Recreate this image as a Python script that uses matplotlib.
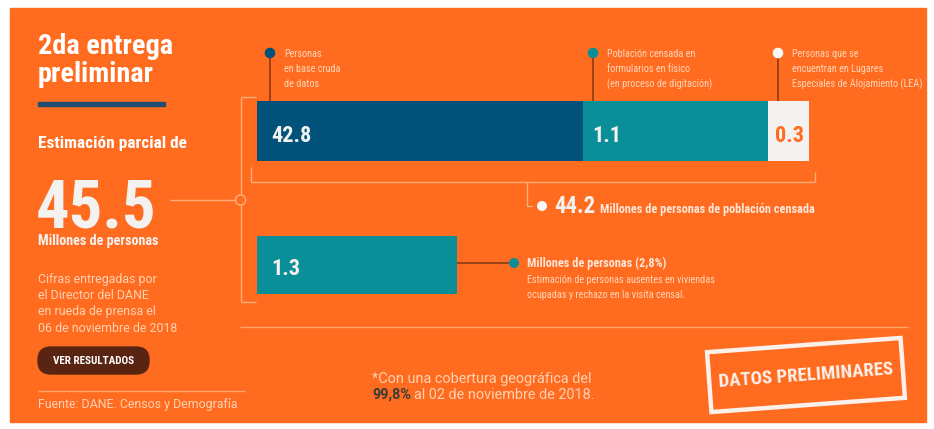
import matplotlib
matplotlib.use("Agg")
import matplotlib.pyplot as plt
import matplotlib.font_manager as fm
from matplotlib.patches import FancyBboxPatch, Circle, Polygon, Rectangle
import numpy as np

# data
census_labels = ["Personas\nen base cruda\nde datos",
                 "Población censada en\nformularios en físico\n(en proceso de digitación)",
                 "Personas que se\nencuentran en Lugares\nEspeciales de Alojamiento (LEA)"]
census_values = [42.8, 1.1, 0.3]
absent_value = 1.3
absent_pct = "2,8%"
coverage = "99,8%"

# colours
ORANGE = "#FF6B1F"
BLUE = "#01527B"
TEAL = "#0A8E98"
WHITE = "#F4F2F0"
PEACH = "#FFD6BA"
THIN = "#FFAE78"
STEM = "#8A3A14"
seg_colors = [BLUE, TEAL, WHITE]
seg_text = [WHITE, WHITE, ORANGE]

# fonts: look for a condensed face, fall back to DejaVu
CONDENSED = ("condensed", "semi-condensed", "extra-condensed", "ultra-condensed")
def _w(f):
    w = f.weight
    return fm.weight_dict.get(w, 400) if isinstance(w, str) else w
def pick_font(bold):
    pool = [f for f in fm.fontManager.ttflist
            if f.stretch in CONDENSED and f.style == "normal" and ((_w(f) >= 600) == bold)]
    for fam in ["Oswald", "Roboto Condensed", "Open Sans", "Noto Sans", "Liberation Sans Narrow", "DejaVu Sans"]:
        for f in pool:
            if f.name == fam:
                return f.fname
    for f in fm.fontManager.ttflist:
        if f.name == "Liberation Sans Narrow" and ((_w(f) >= 600) == bold) and f.style == "normal":
            return f.fname
    return None
COND_B = pick_font(True)
COND_R = pick_font(False)

def fp(size, bold=True, cond=True, family="Roboto", weight="normal"):
    path = (COND_B if bold else COND_R) if cond else None
    if path:
        return fm.FontProperties(fname=path, size=size)
    if cond:
        return fm.FontProperties(family="DejaVu Sans", weight="bold" if bold else "normal",
                                 stretch="condensed", size=size)
    return fm.FontProperties(family=family, weight=weight, size=size)

W, H = 934, 429
fig = plt.figure(figsize=(W / 100, H / 100), dpi=100)
fig.patch.set_facecolor("white")
# orange card behind everything
fig.patches.append(Rectangle((10 / W, 1 - 422 / H), 916 / W, 414 / H, transform=fig.transFigure,
                             color=ORANGE, zorder=0))
ax = fig.add_axes([0, 0, 1, 1])
ax.set_zorder(3)
ax.set_xlim(0, W)
ax.set_ylim(H, 0)
ax.axis("off")

def txt(x, y, s, size, color, bold=True, cond=True, va="baseline", ha="left", **kw):
    fam = {k: kw.pop(k) for k in list(kw) if k in ("family", "weight")}
    return ax.text(x, y, s, fontproperties=fp(size, bold, cond, **fam),
                   color=color, va=va, ha=ha, **kw)

def line(xs, ys, color=THIN, lw=1.0, z=2):
    ax.plot(xs, ys, color=color, lw=lw, zorder=z, solid_capstyle="butt")

# left column
txt(38, 54, "2da entrega", 20.3, "white")
txt(38, 82, "preliminar", 20.3, "white")
ax.add_patch(Rectangle((38, 102), 127, 4, color="#1F4E70", zorder=2))
txt(38, 148, "Estimación parcial de", 12.4, "white")
total = round(sum(census_values) + absent_value, 1)
txt(36, 227, f"{total:.1f}", 48, WHITE)
txt(38, 245, "Millones de personas", 10.2, WHITE)
for i, s in enumerate(["Cifras entregadas por", "el Director del DANE",
                       "en rueda de prensa el", "06 de noviembre de 2018"]):
    txt(38, 283 + 16.2 * i, s, 8.9, "#FFD2B2", bold=False, cond=False, family="Roboto", weight="normal")
ax.add_patch(FancyBboxPatch((38, 347), 111, 27, boxstyle="round,pad=0,rounding_size=13",
                            color="#5A2412", zorder=2))
txt(93.5, 361, "VER RESULTADOS", 8, "white", va="center", ha="center")
line([38, 245], [391, 391], color="#FFA66C")
txt(38, 408, "Fuente: DANE. Censos y Demografía", 8.9, "#FFD2B2", bold=False, cond=False,
    family="Roboto", weight="normal")

# connector tree
line([170, 235], [200, 200])
ax.add_patch(Circle((240.5, 200), 5, fill=False, ec=THIN, lw=1.1, zorder=3))
line([241, 241], [97, 195])
line([241, 241], [205, 302])
line([241, 256], [97, 97])
line([241, 256], [302, 302])

# stacked bar: each segment is its own tile axes
bar_x0, bar_y0, bar_h = 257, 101, 60
tile_w = [326, 185, 41]   # infographic tiles, not to scale
label_dx = [14, 9, 7]
dot_dx = [13, 10, 10]
def tile(x0, y0, w, h):
    a = fig.add_axes([x0 / W, 1 - (y0 + h) / H, w / W, h / H])
    a.set_zorder(1)
    a.axis("off")
    return a
x = bar_x0
for i, (lab, v, c, tc) in enumerate(zip(census_labels, census_values, seg_colors, seg_text)):
    tw = tile_w[i]
    a = tile(x, bar_y0, tw, bar_h)
    a.barh(0, v, height=1, color=c, linewidth=0)
    a.set_xlim(0, v)
    a.set_ylim(-0.5, 0.5)
    txt(x + label_dx[i], 142, f"{v:.1f}", 16, tc)
    dx = x + dot_dx[i]
    line([dx, dx], [53, bar_y0], color=STEM, lw=1.2)
    ax.add_patch(Circle((dx, 53), 4.6, color=c if c != WHITE else "#F8F8F8", zorder=4))
    for j, s in enumerate(lab.split("\n")):
        txt(dx + 14, 57 + 15 * j, s, 7.25, PEACH, bold=False)
    x += tw

# bracket under the bar
line([251, 251], [167, 182])
line([251, 815], [182, 182])
line([815, 815], [172, 182])
line([527, 527], [182, 202])
ax.plot([527, 527, 532], [202, 205.5, 205.5], color=THIN, lw=1.0, zorder=2)
ax.add_patch(Circle((542, 206), 4.3, color="#F8F8F8", zorder=4))
txt(554, 213, f"{sum(census_values):.1f}", 16.5, WHITE)
txt(600, 213, "Millones de personas de población censada", 8.8, "#FFE6D6")

# absent persons bar
a = tile(257, 236, 200, 58)
a.barh(0, absent_value, height=1, color=TEAL, linewidth=0)
a.set_xlim(0, absent_value)
a.set_ylim(-0.5, 0.5)
txt(271, 275, f"{absent_value:.1f}", 16, WHITE)
line([457, 512], [263, 263], color=STEM, lw=1.2)
ax.add_patch(Circle((514, 263), 4.3, color=TEAL, zorder=4))
txt(527, 267, f"Millones de personas ({absent_pct})", 8.8, "#FFE6D6")
txt(527, 283, "Estimación de personas ausentes en viviendas", 7.4, PEACH, bold=False)
txt(527, 298, "ocupadas y rechazo en la visita censal.", 7.4, PEACH, bold=False)

line([240, 908], [327, 327], color="#FFA66C")

# footer note
txt(372, 383, "*Con una cobertura geográfica del", 10.4, "#FFD2B2", bold=False, cond=False,
    family="Roboto", weight="normal")
t1 = txt(372, 399, coverage, 10.4, "#3A3A3A", bold=False, cond=False, family="Roboto", weight="bold")
fig.canvas.draw()
bb = t1.get_window_extent()
x_end = ax.transData.inverted().transform((bb.x1, bb.y0))[0]
txt(x_end + 3, 399, "al 02 de noviembre de 2018.", 10.4, "#FFD2B2", bold=False, cond=False,
    family="Roboto", weight="normal")

# stamp
cx, cy, sw, sh, ang = 806, 375, 194, 60, 4.2
th = np.deg2rad(ang)
corners = []
for px, py in [(-sw / 2, -sh / 2), (sw / 2, -sh / 2), (sw / 2, sh / 2), (-sw / 2, sh / 2)]:
    rx = px * np.cos(th) + py * np.sin(th)
    ry = -px * np.sin(th) + py * np.cos(th)
    corners.append((cx + rx, cy + ry))
ax.add_patch(Polygon(corners, closed=True, fill=False, ec="#FBF1EA", lw=3.2, zorder=3))
txt(cx, cy + 1, "DATOS PRELIMINARES", 13.5, "#FBF1EA", va="center", ha="center",
    rotation=ang, rotation_mode="anchor")

fig.savefig("out.png", dpi=100, facecolor="white")
